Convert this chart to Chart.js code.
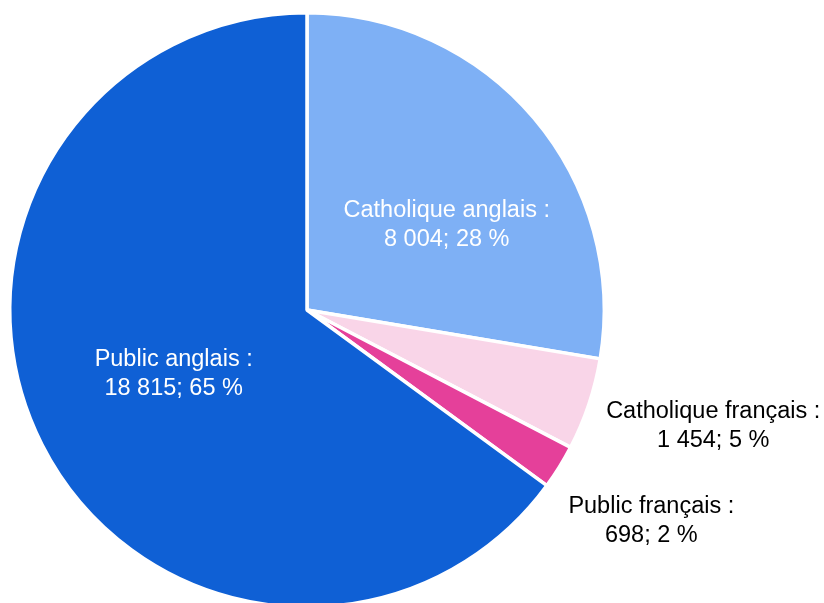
<!DOCTYPE html>
<html>
	<head>
		<meta charset="UTF-8" />
		<title>Répartition des élèves</title>
		<script src="https://cdn.jsdelivr.net/npm/chart.js"></script>
		<style>
			html, body { margin: 0; padding: 0; background: #fff; overflow: hidden; }
			#wrap { width: 824px; height: 620px; position: relative; }
		</style>
	</head>
	<body>
		<div id="wrap"><canvas id="pieChart"></canvas></div>
		<script>
			const categories = ["Catholique anglais", "Catholique français", "Public français", "Public anglais"];
			const counts = [8004, 1454, 698, 18815];
			const percents = [28, 5, 2, 65];
			const sliceColors = ["#7eb0f5", "#f9d5e8", "#e5409a", "#0f60d5"];

			// label placement: fraction of radius + angle shift (deg) from slice middle
			const labelPlace = [
				{ r: 0.55, shift: 9, color: "#ffffff" },
				{ r: 1.421, shift: -2.6, color: "#000000" },
				{ r: 1.358, shift: -0.4, color: "#000000" },
				{ r: 0.497, shift: 1.4, color: "#ffffff" }
			];

			const fmt = n => n.toString().replace(/\B(?=(\d{3})+(?!\d))/g, " ");

			const sliceLabels = {
				id: "sliceLabels",
				afterDatasetsDraw(chart) {
					const ctx = chart.ctx;
					const meta = chart.getDatasetMeta(0);
					ctx.save();
					ctx.font = "23.5px 'Liberation Sans', Arial, sans-serif";
					ctx.textAlign = "center";
					ctx.textBaseline = "middle";
					meta.data.forEach((arc, i) => {
						const p = labelPlace[i];
						const mid = (arc.startAngle + arc.endAngle) / 2 + p.shift * Math.PI / 180;
						const dist = arc.outerRadius * p.r;
						const x = arc.x + Math.cos(mid) * dist;
						const y = arc.y + Math.sin(mid) * dist;
						ctx.fillStyle = p.color;
						ctx.fillText(categories[i] + " :", x, y - 14.5);
						ctx.fillText(fmt(counts[i]) + "; " + percents[i] + " %", x, y + 14.5);
					});
					ctx.restore();
				}
			};

			new Chart(document.getElementById("pieChart"), {
				type: "pie",
				data: {
					labels: categories,
					datasets: [{
						data: counts,
						backgroundColor: sliceColors,
						borderColor: "#ffffff",
						borderWidth: 3.5
					}]
				},
				options: {
					responsive: true,
					maintainAspectRatio: false,
					animation: false,
					layout: { padding: { top: 11, left: 8, right: 218, bottom: 11 } },
					plugins: {
						legend: { display: false },
						tooltip: { enabled: false }
					}
				},
				plugins: [sliceLabels]
			});
		</script>
	</body>
</html>
